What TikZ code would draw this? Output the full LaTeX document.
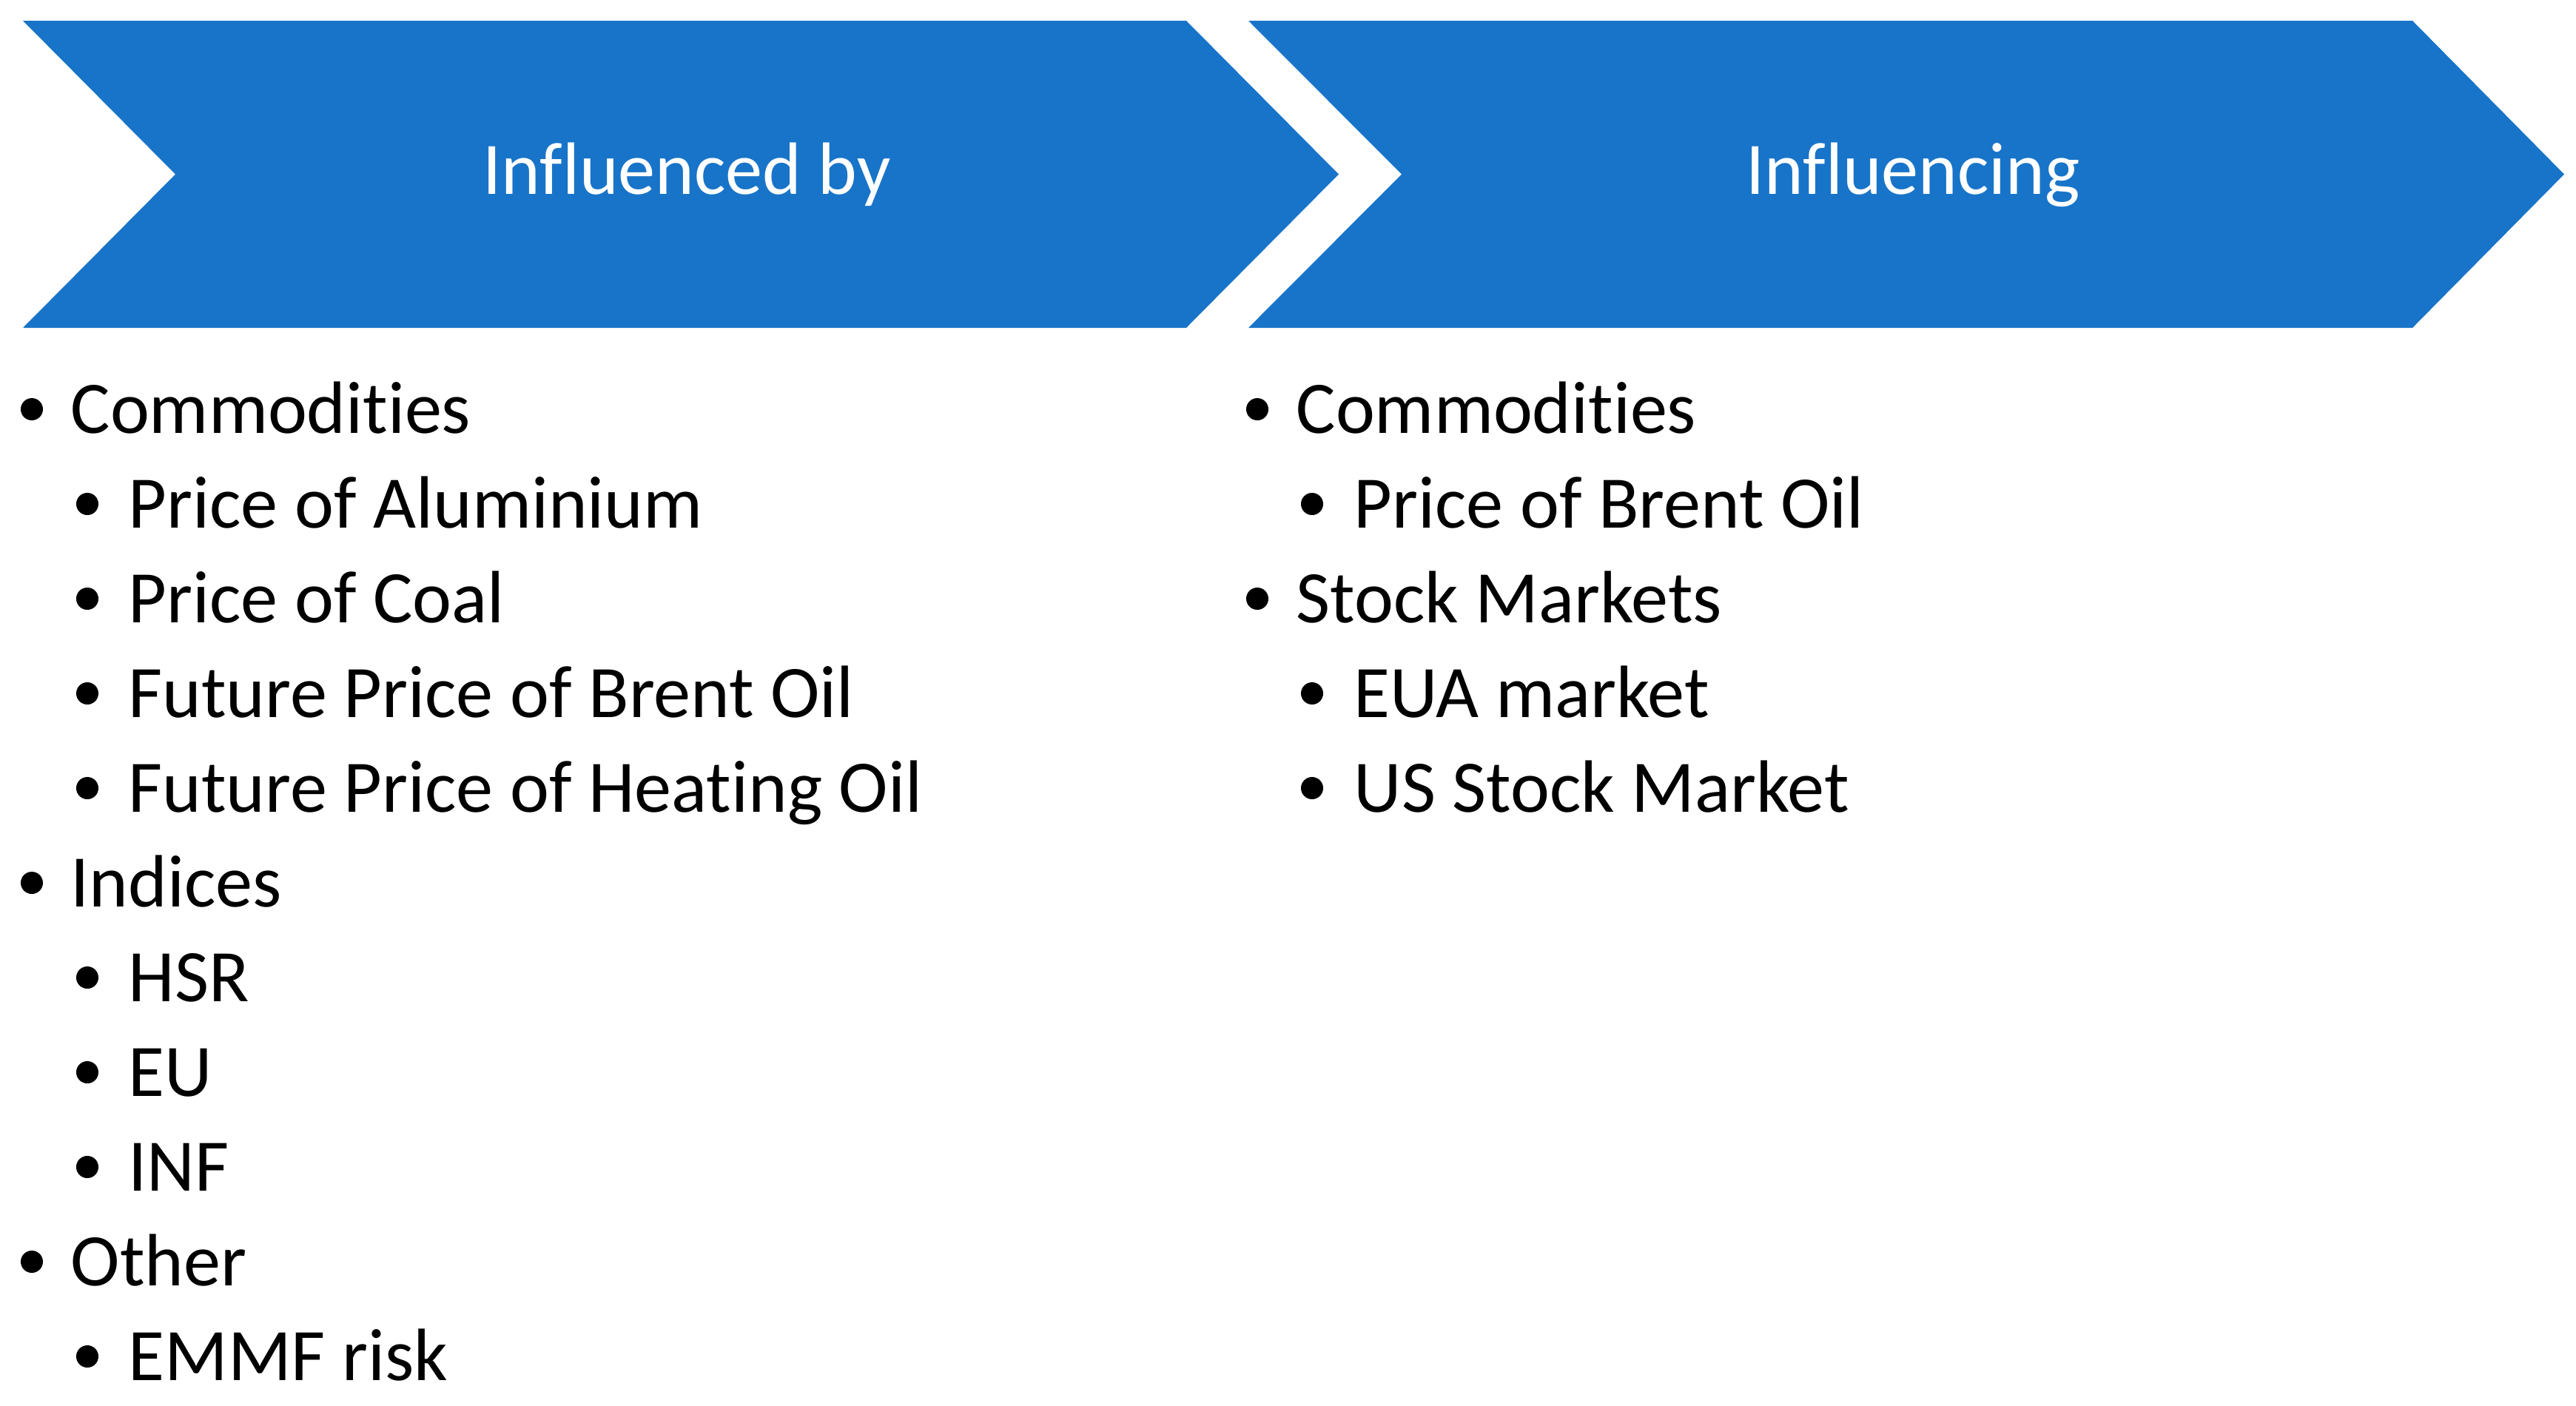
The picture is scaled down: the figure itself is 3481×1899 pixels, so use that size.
\documentclass[tikz,border=0pt]{standalone}
\usepackage{fontspec}
\setmainfont{Carlito}[RawFeature={-liga}]
\definecolor{chevblue}{RGB}{24,116,200}
\begin{document}
\begin{tikzpicture}[x=0.01cm,y=-0.01cm,
  chev/.style={fill=chevblue,draw=none},
  head/.style={text=white,font=\fontsize{28.5pt}{34pt}\selectfont,inner sep=0pt,anchor=base},
  item/.style={text=black,font=\fontsize{28.5pt}{34pt}\selectfont,inner sep=0pt,anchor=base west},
  dot/.style={circle,fill=black,draw=none,minimum size=0.3cm,inner sep=0pt}]
\useasboundingbox (0,0) rectangle (3481,1899);
\fill[white] (0,0) rectangle (3481,1899);
% chevrons
\path[chev] (31,28) -- (1603,28) -- (1809,235.5) -- (1603,443) -- (31,443) -- (237,235.5) -- cycle;
\path[chev] (1687,28) -- (3260,28) -- (3465,235.5) -- (3260,443) -- (1687,443) -- (1894,235.5) -- cycle;
\node[head] (h1) at (928,262) {Influenced by};
\node[head] (h2) at (2585,262) {Influencing};
% left column
\foreach \n/\lvl/\y/\t in {
  a/0/585/Commodities,
  b/1/713/Price of Aluminium,
  c/1/841/Price of Coal,
  d/1/969/Future Price of Brent Oil,
  e/1/1097/Future Price of Heating Oil,
  f/0/1225/Indices,
  g/1/1353/HSR,
  h/1/1481/EU,
  i/1/1609/INF,
  j/0/1737/Other,
  k/1/1865/EMMF risk}{
  \ifnum\lvl=0
    \node[dot] (L\n b) at (43,\y-32) {};
    \node[item] (L\n) at (95,\y) {\t};
  \else
    \node[dot] (L\n b) at (118,\y-32) {};
    \node[item] (L\n) at (173,\y) {\t};
  \fi
}
% right column
\foreach \n/\lvl/\y/\t in {
  a/0/585/Commodities,
  b/1/713/Price of Brent Oil,
  c/0/841/Stock Markets,
  d/1/969/EUA market,
  e/1/1097/US Stock Market}{
  \ifnum\lvl=0
    \node[dot] (R\n b) at (1699,\y-32) {};
    \node[item] (R\n) at (1751,\y) {\t};
  \else
    \node[dot] (R\n b) at (1773,\y-32) {};
    \node[item] (R\n) at (1829,\y) {\t};
  \fi
}
\end{tikzpicture}
\end{document}
